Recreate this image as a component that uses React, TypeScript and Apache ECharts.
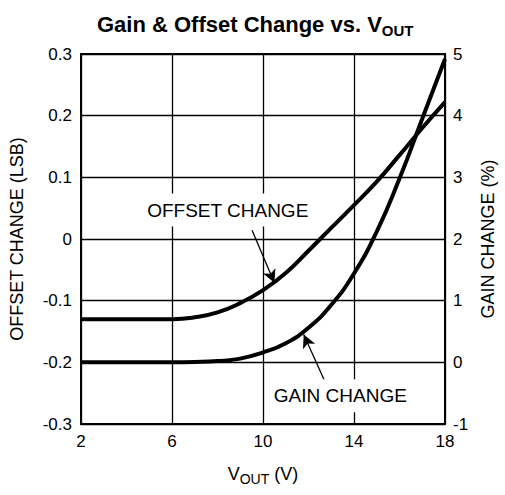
import React, { useEffect, useRef } from "react";
import * as echarts from "echarts";

const FONT = '"Liberation Sans", Arial, Helvetica, sans-serif';

// V_OUT (V)
const vout = [2, 4, 6, 7, 8, 9, 10, 11, 12, 13, 14, 15, 16, 17, 18];
// Offset change (LSB), left axis
const offsetChange = [-0.13, -0.13, -0.13, -0.127, -0.119, -0.104, -0.083, -0.055, -0.019, 0.018, 0.055, 0.093, 0.136, 0.18, 0.222];
// Gain change (%), right axis
const gainChange = [0, 0, 0, 0.005, 0.02, 0.06, 0.16, 0.31, 0.56, 0.93, 1.44, 2.12, 2.98, 3.95, 4.92];

const xTicks = { min: 2, max: 18, interval: 4 };
const leftTicks = { min: -0.3, max: 0.3, interval: 0.1 };
const rightTicks = { min: -1, max: 5, interval: 1 };

// annotation anchors in data units [V_OUT, LSB]
const offsetLabelAt = [8.45, 0.047];
const offsetArrow = [[9.52, 0.014], [10.5, -0.071]];
const gainLabelAt = [13.4, -0.254];
const gainArrow = [[12.77, -0.235], [11.79, -0.155]];

export default function App() {
  const ref = useRef<HTMLDivElement>(null);
  useEffect(() => {
    if (!ref.current) return;
    const chart = echarts.init(ref.current, null, { renderer: "svg" });
    const lbl = { color: "#000", fontSize: 17, fontFamily: FONT };
    const annoLabel = (text: string) => ({
      show: true,
      position: "inside",
      formatter: text,
      color: "#000",
      fontSize: 19,
      fontFamily: FONT,
      backgroundColor: "#fff",
      padding: [7, 3, 7, 3],
    });
    chart.setOption({
      animation: false,
      backgroundColor: "#fff",
      title: {
        text: "{a|Gain & Offset Change vs. V}{b|OUT}",
        left: 92,
        top: 6,
        textStyle: {
          rich: {
            a: { fontSize: 22, fontWeight: "bold", fontFamily: FONT, color: "#000" },
            b: { fontSize: 15, fontWeight: "bold", fontFamily: FONT, color: "#000", padding: [12, 0, 0, 0] },
          },
        },
      },
      grid: { left: 81, right: 50, top: 54, bottom: 71, show: true, borderColor: "#000", borderWidth: 2, backgroundColor: "transparent" },
      xAxis: {
        type: "value",
        ...xTicks,
        name: "{a|V}{b|OUT}{a| (V)}",
        nameLocation: "middle",
        nameGap: 38,
        nameTextStyle: {
          rich: {
            a: { fontSize: 18, fontFamily: FONT, color: "#000" },
            b: { fontSize: 14, fontFamily: FONT, color: "#000", padding: [10, 0, 0, 0] },
          },
        },
        axisLine: { show: false },
        axisTick: { show: false },
        axisLabel: { ...lbl, margin: 9 },
        splitLine: { show: true, lineStyle: { color: "#000", width: 1.3 } },
      },
      yAxis: [
        {
          type: "value",
          ...leftTicks,
          name: "OFFSET CHANGE (LSB)",
          nameLocation: "middle",
          nameRotate: 90,
          nameGap: 55,
          nameTextStyle: { fontSize: 18, fontFamily: FONT, color: "#000" },
          axisLine: { show: false },
          axisTick: { show: false },
          axisLabel: { ...lbl, margin: 9, formatter: (v: number) => String(Number(v.toFixed(1))) },
          splitLine: { show: true, lineStyle: { color: "#000", width: 1.3 } },
        },
        {
          type: "value",
          ...rightTicks,
          position: "right",
          name: "GAIN CHANGE (%)",
          nameLocation: "middle",
          nameRotate: 90,
          nameGap: 30,
          nameTextStyle: { fontSize: 18, fontFamily: FONT, color: "#000" },
          axisLine: { show: false },
          axisTick: { show: false },
          axisLabel: { ...lbl, margin: 8 },
          splitLine: { show: false },
        },
      ],
      series: [
        {
          type: "line",
          name: "Offset Change",
          yAxisIndex: 0,
          data: vout.map((x, i) => [x, offsetChange[i]]),
          smooth: 0.5,
          showSymbol: false,
          lineStyle: { color: "#000", width: 4 },
          z: 3,
          markPoint: {
            symbol: "circle",
            symbolSize: 1,
            itemStyle: { color: "rgba(0,0,0,0)" },
            data: [{ coord: offsetLabelAt, label: annoLabel("OFFSET CHANGE") }],
          },
          markLine: {
            silent: true,
            symbol: ["none", "arrow"],
            symbolSize: [10, 13],
            label: { show: false },
            lineStyle: { color: "#000", width: 1.3, type: "solid" },
            data: [[{ coord: offsetArrow[0] }, { coord: offsetArrow[1] }]],
          },
        },
        {
          type: "line",
          name: "Gain Change",
          yAxisIndex: 1,
          data: vout.map((x, i) => [x, gainChange[i]]),
          smooth: 0.5,
          showSymbol: false,
          lineStyle: { color: "#000", width: 4 },
          z: 3,
        },
        {
          type: "line",
          name: "annotations",
          yAxisIndex: 0,
          data: [],
          markPoint: {
            symbol: "circle",
            symbolSize: 1,
            itemStyle: { color: "rgba(0,0,0,0)" },
            data: [{ coord: gainLabelAt, label: annoLabel("GAIN CHANGE") }],
          },
          markLine: {
            silent: true,
            symbol: ["none", "arrow"],
            symbolSize: [10, 13],
            label: { show: false },
            lineStyle: { color: "#000", width: 1.3, type: "solid" },
            data: [[{ coord: gainArrow[0] }, { coord: gainArrow[1] }]],
          },
        },
      ],
    });
    return () => chart.dispose();
  }, []);
  return <div ref={ref} style={{ position: "fixed", left: 0, top: 0, width: 505, height: 495 }} />;
}
